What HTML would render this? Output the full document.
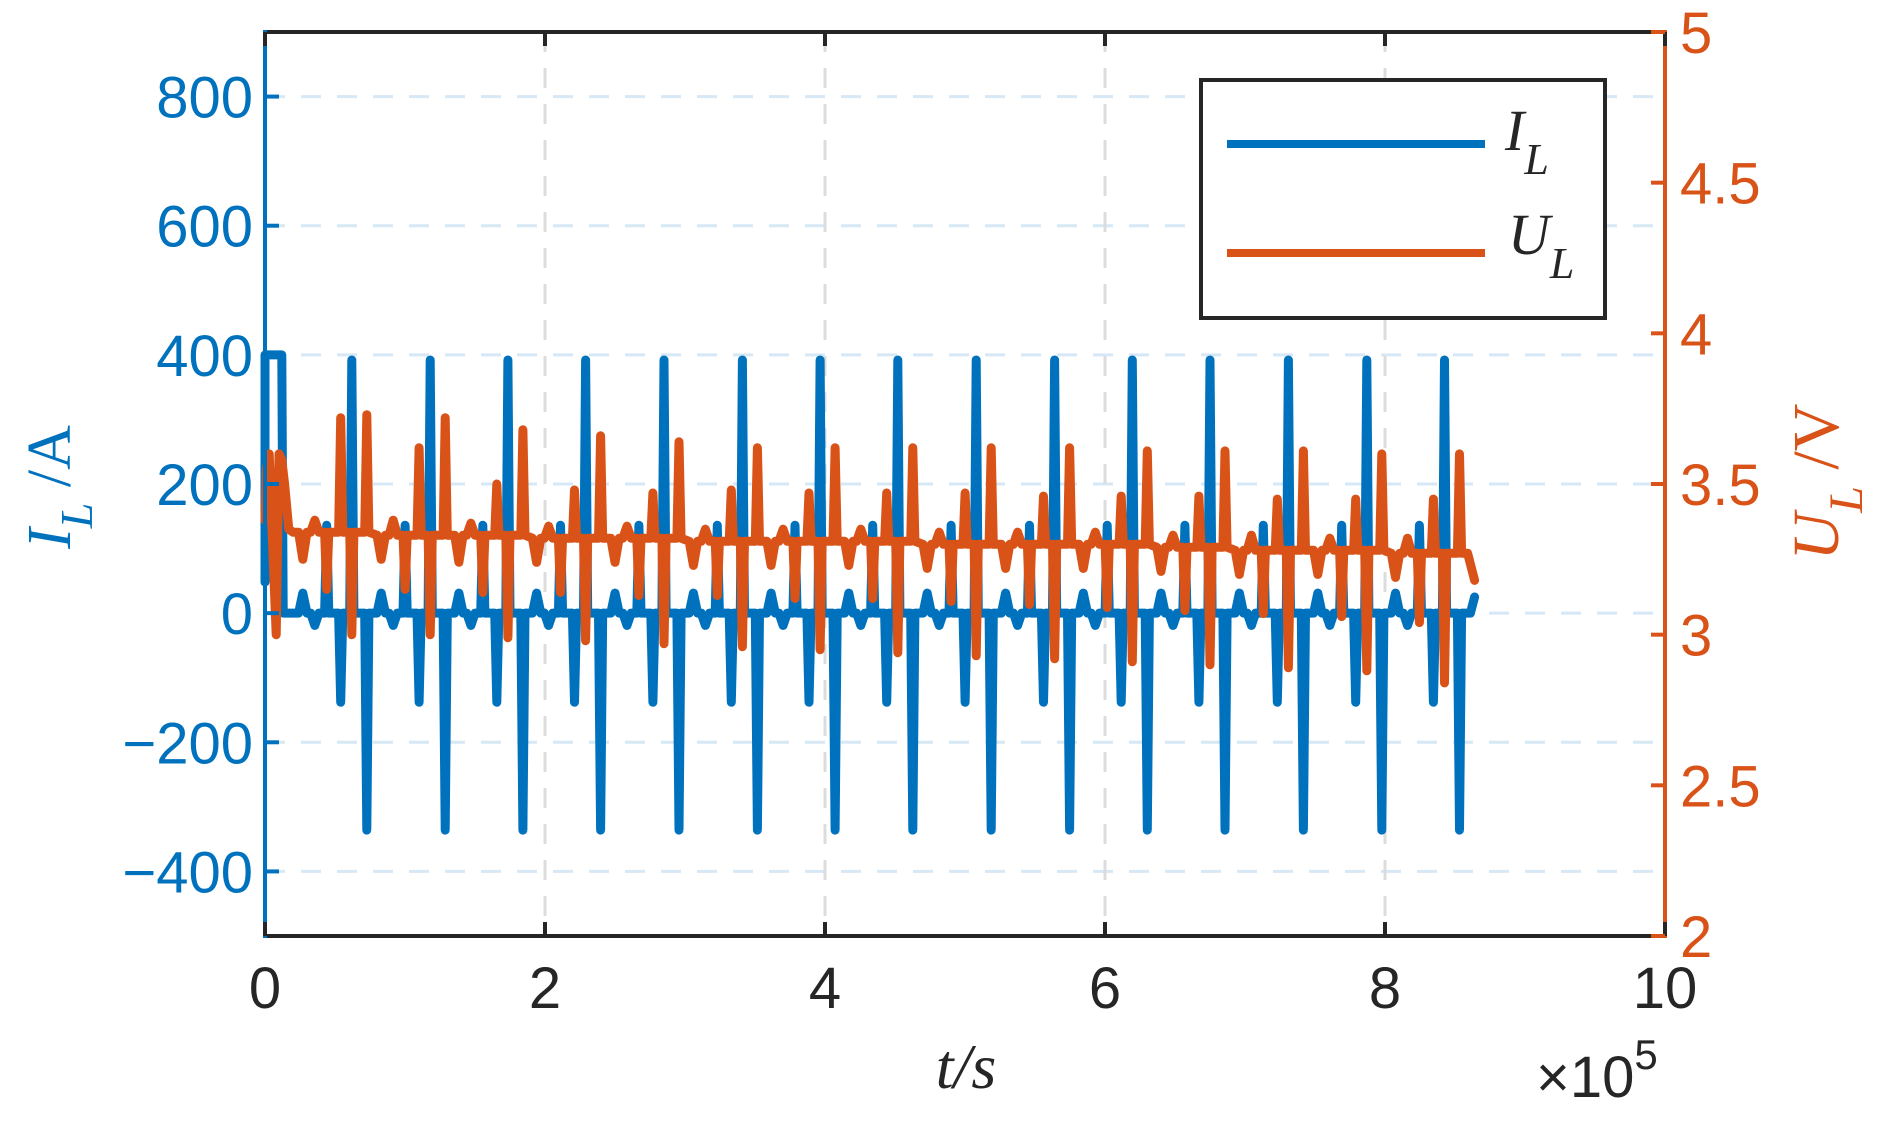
<!DOCTYPE html>
<html>
<head>
<meta charset="utf-8">
<style>
  html, body { margin:0; padding:0; background:#fff; }
  body { width:1898px; height:1136px; overflow:hidden; }
  svg { display:block; }
</style>
</head>
<body>
<svg id="chart" width="1898" height="1136" viewBox="0 0 1898 1136" xmlns="http://www.w3.org/2000/svg">
  <g id="grid"></g>
  <g id="series"></g>
  <g id="axes"></g>
  <g id="legend">
    <rect x="1201" y="80" width="404" height="238" fill="#fff" stroke="#262626" stroke-width="4"/>
    <line x1="1227" y1="144" x2="1485" y2="144" stroke="#0072BD" stroke-width="8"/>
    <text x="1505" y="150" font-family="Liberation Serif, serif" font-style="italic" font-size="58" fill="#262626">I<tspan dy="24" font-size="44">L</tspan></text>
    <line x1="1227" y1="253" x2="1485" y2="253" stroke="#D95319" stroke-width="8"/>
    <text x="1508" y="254" font-family="Liberation Serif, serif" font-style="italic" font-size="58" fill="#262626">U<tspan dy="24" font-size="44">L</tspan></text>
  </g>
  <text transform="translate(70,487) rotate(-90)" text-anchor="middle" font-family="Liberation Serif, serif" font-size="62" fill="#0072BD"><tspan font-style="italic">I</tspan><tspan dy="22" font-size="46" font-style="italic">L</tspan><tspan dy="-22"> /A</tspan></text>
  <text transform="translate(1838,482) rotate(-90)" text-anchor="middle" font-family="Liberation Serif, serif" font-size="66" fill="#D95319"><tspan font-style="italic">U</tspan><tspan dy="24" font-size="48" font-style="italic">L</tspan><tspan dy="-24"> /V</tspan></text>
  <text x="966" y="1088" text-anchor="middle" font-family="Liberation Serif, serif" font-style="italic" font-size="64" fill="#262626">t/s</text>
  <text x="1536" y="1097" font-family="Liberation Sans, sans-serif" font-size="58" fill="#262626">×10<tspan dy="-28" font-size="42">5</tspan></text>
</svg>
<script>
const xTicks = [0, 2, 4, 6, 8, 10];
const xTickLabels = ["0", "2", "4", "6", "8", "10"];
const yLeftTicks = [-400, -200, 0, 200, 400, 600, 800];
const yLeftTickLabels = ["\u2212400", "\u2212200", "0", "200", "400", "600", "800"];
const yRightTicks = [2, 2.5, 3, 3.5, 4, 4.5, 5];
const yRightTickLabels = ["2", "2.5", "3", "3.5", "4", "4.5", "5"];

const cycleTimes = [0.62, 1.18, 1.735, 2.29, 2.85, 3.41, 3.965, 4.52, 5.08, 5.64, 6.195, 6.75, 7.31, 7.87, 8.425];
const eventOffsets = [-0.35, -0.264, -0.179, -0.079, 0, 0.107];
const iBump = [31, 31, 31, 31, 31, 31, 31, 31, 31, 31, 31, 31, 31, 31, 31];
const iDip = [-19, -19, -19, -19, -19, -19, -19, -19, -19, -19, -19, -19, -19, -19, -19];
const iMid = [136, 136, 136, 136, 136, 136, 136, 136, 136, 136, 136, 136, 136, 136, 136];
const iNegSmall = [-138, -138, -138, -138, -138, -138, -138, -138, -138, -138, -138, -138, -138, -138, -138];
const iPeak = [392, 392, 392, 392, 392, 392, 392, 392, 392, 392, 392, 392, 392, 392, 392];
const iNegLarge = [-336, -336, -336, -336, -336, -336, -336, -336, -336, -336, -336, -336, -336, -336, -336];
const uBase = [3.34, 3.33, 3.33, 3.32, 3.32, 3.31, 3.31, 3.31, 3.30, 3.30, 3.30, 3.29, 3.28, 3.28, 3.27];
const uDip = [3.25, 3.25, 3.24, 3.24, 3.24, 3.23, 3.23, 3.23, 3.22, 3.22, 3.22, 3.21, 3.20, 3.20, 3.19];
const uBump = [3.38, 3.38, 3.37, 3.36, 3.36, 3.35, 3.35, 3.35, 3.34, 3.34, 3.34, 3.33, 3.33, 3.32, 3.32];
const uDrop = [3.15, 3.15, 3.14, 3.14, 3.13, 3.13, 3.12, 3.12, 3.11, 3.10, 3.09, 3.08, 3.07, 3.06, 3.04];
const uPre = [3.72, 3.62, 3.50, 3.48, 3.47, 3.48, 3.47, 3.47, 3.47, 3.46, 3.46, 3.46, 3.45, 3.45, 3.45];
const uLow = [3.00, 3.00, 2.99, 2.98, 2.97, 2.96, 2.95, 2.94, 2.93, 2.92, 2.91, 2.90, 2.89, 2.88, 2.84];
const uHigh = [3.73, 3.72, 3.68, 3.66, 3.64, 3.62, 3.62, 3.62, 3.62, 3.62, 3.61, 3.61, 3.61, 3.60, 3.60];
const startT = [0, 0, 0.02, 0.12, 0.13, 0.2];
const startI = [48, 400, 400, 400, 0, 0];
const startUT = [0, 0.01, 0.03, 0.05, 0.08, 0.1, 0.12, 0.14, 0.17, 0.2];
const startU = [3.38, 3.55, 3.6, 3.35, 3.0, 3.6, 3.58, 3.5, 3.35, 3.34];
const endT = 8.64;
const endI = 25;
const endU = 3.18;

const X0 = 265, X1 = 1665, YT = 32, YB = 936;
const xS = t => X0 + t / 10 * (X1 - X0);
const yL = v => YB - (v + 500) / 1400 * (YB - YT);
const yR = v => YB - (v - 2) / 3 * (YB - YT);
const NS = "http://www.w3.org/2000/svg";
function mk(tag, attrs, parent) {
  const e = document.createElementNS(NS, tag);
  for (const k in attrs) e.setAttribute(k, attrs[k]);
  parent.appendChild(e);
  return e;
}

const grid = document.getElementById('grid');
const axes = document.getElementById('axes');
const seriesG = document.getElementById('series');

yLeftTicks.forEach((v) => {
  const l = mk('line', {x1: X0, x2: X1, y1: yL(v), y2: yL(v), stroke: '#d6e8f5', 'stroke-width': 3, 'stroke-dasharray': '20 16'}, grid);
  
  
});
xTicks.forEach((t) => {
  if (t === 0 || t === 10) return;
  const l = mk('line', {x1: xS(t), x2: xS(t), y1: YT, y2: YB, stroke: '#dcdcdc', 'stroke-width': 3, 'stroke-dasharray': '20 16'}, grid);
  
  
});

function spike(pts, t, base, v, w, yf) {
  pts.push([xS(t - w), yf(base)], [xS(t), yf(v)], [xS(t + w), yf(base)]);
}
const iPts = [];
startT.forEach((t, k) => iPts.push([xS(t), yL(startI[k])]));
const iArrs = [iBump, iDip, iMid, iNegSmall, iPeak, iNegLarge];
const iW = [0.03, 0.03, 0.015, 0.015, 0.015, 0.015];
cycleTimes.forEach((T, c) => {
  eventOffsets.forEach((o, e) => spike(iPts, T + o, 0, iArrs[e][c], iW[e], yL));
});
iPts.push([xS(endT - 0.03), yL(0)], [xS(endT), yL(endI)]);

const uPts = [];
startUT.forEach((t, k) => uPts.push([xS(t), yR(startU[k])]));
const uArrs = [uDip, uBump, uDrop, uPre, uLow, uHigh];
const uW = [0.03, 0.03, 0.015, 0.015, 0.015, 0.015];
cycleTimes.forEach((T, c) => {
  eventOffsets.forEach((o, e) => spike(uPts, T + o, uBase[c], uArrs[e][c], uW[e], yR));
});
uPts.push([xS(endT - 0.05), yR(uBase[uBase.length - 1])], [xS(endT), yR(endU)]);

const toD = pts => pts.map((p, i) => (i ? 'L' : 'M') + p[0].toFixed(1) + ' ' + p[1].toFixed(1)).join(' ');
const pi = mk('path', {d: toD(iPts), fill: 'none', stroke: '#0072BD', 'stroke-width': 9, 'stroke-linejoin': 'round', 'stroke-linecap': 'round'}, seriesG);


const pu = mk('path', {d: toD(uPts), fill: 'none', stroke: '#D95319', 'stroke-width': 9, 'stroke-linejoin': 'round', 'stroke-linecap': 'round'}, seriesG);



const topAxis = mk('line', {x1: X0, x2: X1, y1: YT, y2: YT, stroke: '#262626', 'stroke-width': 4}, axes);


const botAxis = mk('line', {x1: X0, x2: X1, y1: YB, y2: YB, stroke: '#262626', 'stroke-width': 4}, axes);


const leftAxis = mk('line', {x1: X0, x2: X0, y1: YT - 2, y2: YB + 2, stroke: '#0072BD', 'stroke-width': 4}, axes);


const rightAxis = mk('line', {x1: X1, x2: X1, y1: YT - 2, y2: YB + 2, stroke: '#D95319', 'stroke-width': 4}, axes);



xTicks.forEach((t, k) => {
  const a = mk('line', {x1: xS(t), x2: xS(t), y1: YB, y2: YB - 14, stroke: '#262626', 'stroke-width': 4}, axes);
  
  
  const b = mk('line', {x1: xS(t), x2: xS(t), y1: YT, y2: YT + 14, stroke: '#262626', 'stroke-width': 4}, axes);
  
  
  const tx = mk('text', {x: xS(t), y: 1008, 'text-anchor': 'middle', 'font-family': 'Liberation Sans, sans-serif', 'font-size': 58, fill: '#262626'}, axes);
  tx.textContent = xTickLabels[k];
  
  
});
yLeftTicks.forEach((v, k) => {
  const a = mk('line', {x1: X0, x2: X0 + 14, y1: yL(v), y2: yL(v), stroke: '#0072BD', 'stroke-width': 4}, axes);
  
  
  const tx = mk('text', {x: 253, y: yL(v) + 21, 'text-anchor': 'end', 'font-family': 'Liberation Sans, sans-serif', 'font-size': 58, fill: '#0072BD'}, axes);
  tx.textContent = yLeftTickLabels[k];
  
  
});
yRightTicks.forEach((v, k) => {
  const a = mk('line', {x1: X1, x2: X1 - 14, y1: yR(v), y2: yR(v), stroke: '#D95319', 'stroke-width': 4}, axes);
  
  
  const tx = mk('text', {x: 1680, y: yR(v) + 21, 'text-anchor': 'start', 'font-family': 'Liberation Sans, sans-serif', 'font-size': 58, fill: '#D95319'}, axes);
  tx.textContent = yRightTickLabels[k];
  
  
});
</script>
</body>
</html>
